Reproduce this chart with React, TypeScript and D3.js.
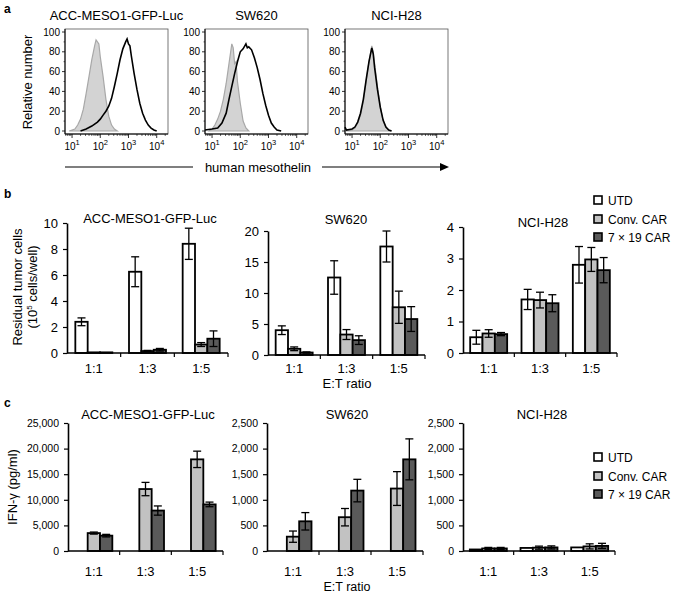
import React, { useEffect, useRef } from "react";
import { scaleLinear, scaleLog, scaleBand, axisLeft, select, line, area, format, range } from "d3";

const FONT = "'Liberation Sans', Arial, Helvetica, sans-serif";

// ---- panel a: flow histograms, [log10 intensity, relative number] ----
const accIso = [[0.9, 0], [1.1, 2], [1.2, 6], [1.3, 12], [1.4, 22], [1.5, 38], [1.6, 55], [1.7, 72], [1.8, 86], [1.85, 92], [1.9, 90], [1.95, 88], [2.0, 75], [2.1, 55], [2.2, 32], [2.3, 15], [2.4, 6], [2.5, 2], [2.6, 0]];
const accStain = [[1.3, 0], [1.5, 2], [1.7, 5], [1.9, 9], [2.0, 12], [2.1, 16], [2.2, 20], [2.3, 25], [2.4, 33], [2.5, 45], [2.6, 58], [2.7, 72], [2.8, 83], [2.9, 90], [2.95, 93], [3.0, 88], [3.05, 86], [3.1, 76], [3.2, 58], [3.3, 42], [3.4, 28], [3.5, 18], [3.6, 11], [3.7, 6], [3.8, 3], [3.9, 1], [4.0, 0]];
const swIso = [[0.9, 0], [1.0, 2], [1.1, 6], [1.2, 12], [1.3, 20], [1.4, 32], [1.5, 48], [1.6, 68], [1.7, 88], [1.75, 84], [1.8, 68], [1.85, 70], [1.9, 50], [2.0, 28], [2.1, 10], [2.2, 3], [2.3, 0]];
const swStain = [[0.75, 1], [1.0, 2], [1.2, 3], [1.35, 8], [1.5, 18], [1.6, 32], [1.7, 45], [1.8, 58], [1.9, 70], [2.0, 80], [2.1, 83], [2.2, 88], [2.25, 84], [2.3, 85], [2.4, 82], [2.5, 74], [2.6, 64], [2.7, 52], [2.8, 38], [2.9, 26], [3.0, 16], [3.1, 8], [3.2, 4], [3.3, 1], [3.45, 0]];
const h28Iso = [[0.75, 3], [0.8, 1], [1.0, 1], [1.1, 3], [1.2, 8], [1.3, 16], [1.4, 30], [1.5, 50], [1.6, 70], [1.7, 86], [1.75, 80], [1.8, 68], [1.9, 45], [2.0, 25], [2.1, 10], [2.2, 4], [2.3, 1], [2.4, 0]];
const h28Stain = [[0.75, 4], [0.8, 1], [1.0, 2], [1.1, 4], [1.2, 9], [1.3, 18], [1.4, 32], [1.5, 52], [1.6, 70], [1.7, 84], [1.75, 78], [1.8, 64], [1.9, 42], [2.0, 24], [2.1, 11], [2.2, 4], [2.3, 1], [2.4, 0]];

// ---- panels b, c: bar charts ----
const ratios = ["1:1", "1:3", "1:5"];
const groups = ["UTD", "Conv. CAR", "7 × 19 CAR"];
const fills = ["#ffffff", "#c2c2c2", "#5a5a5a"];

// rows = ratio, cols = UTD / Conv / 7x19
const bAccMean = [[2.4, 0.05, 0.05], [6.25, 0.15, 0.25], [8.4, 0.65, 1.1]];
const bAccErr = [[0.3, 0, 0], [1.15, 0.05, 0.1], [1.2, 0.15, 0.6]];
const bSwMean = [[4.0, 1.0, 0.4], [12.5, 3.3, 2.4], [17.5, 7.7, 5.8]];
const bSwErr = [[0.7, 0.3, 0.1], [2.7, 0.8, 0.7], [2.5, 2.6, 2.0]];
const bH28Mean = [[0.5, 0.62, 0.6], [1.7, 1.68, 1.58], [2.8, 2.97, 2.63]];
const bH28Err = [[0.22, 0.12, 0.05], [0.32, 0.25, 0.27], [0.58, 0.38, 0.4]];

const cAccMean = [[0, 3500, 3000], [0, 12100, 7900], [0, 17900, 9100]];
const cAccErr = [[0, 200, 250], [0, 1300, 900], [0, 1600, 450]];
const cSwMean = [[0, 280, 580], [0, 660, 1180], [0, 1220, 1790]];
const cSwErr = [[0, 110, 170], [0, 170, 220], [0, 330, 400]];
const cH28Mean = [[30, 50, 50], [60, 65, 70], [70, 90, 100]];
const cH28Err = [[0, 20, 20], [0, 30, 30], [0, 50, 50]];

function FlowPanel({ left, right, title, iso, stain }) {
  const x = scaleLog().domain([10 ** 0.75, 10 ** 4.4]).range([left, right]);
  const y = scaleLinear().domain([0, 100]).range([131, 32]);
  const pts = (d) => d.map(([l, v]) => [10 ** l, v]);
  const fillArea = area().x((d) => x(d[0])).y0(y(0)).y1((d) => y(d[1]));
  const outline = line().x((d) => x(d[0])).y((d) => y(d[1]));
  const top = 29, bottom = 134;
  const majors = [10, 100, 1000, 10000];
  const minors = [];
  [1, 10, 100, 1000, 10000].forEach((dec) =>
    range(2, 10).forEach((m) => {
      const v = dec * m;
      if (v > x.domain()[0] && v < x.domain()[1]) minors.push(v);
    })
  );
  return (
    <g>
      <text x={(left + right) / 2} y={20} textAnchor="middle" fontSize={13} fontFamily={FONT}>{title}</text>
      <rect x={left} y={top} width={right - left} height={bottom - top} fill="none" stroke="#555" strokeWidth={0.8} />
      <path d={fillArea(pts(iso))} fill="#d3d3d3" stroke="#a8a8a8" strokeWidth={1.2} />
      <path d={outline(pts(stain))} fill="none" stroke="#000" strokeWidth={1.6} />
      {range(0, 101, 20).map((t) => (
        <g key={t}>
          <line x1={left - 3} x2={left} y1={y(t)} y2={y(t)} stroke="#000" strokeWidth={0.8} />
          <text x={left - 5} y={y(t) + 3.5} textAnchor="end" fontSize={10} fontFamily={FONT}>{t}</text>
        </g>
      ))}
      {range(10, 100, 20).map((t) => (
        <line key={t} x1={left - 1.5} x2={left} y1={y(t)} y2={y(t)} stroke="#000" strokeWidth={0.6} />
      ))}
      <line x1={left} x2={left} y1={top} y2={bottom} stroke="#000" strokeWidth={1} />
      <line x1={left} x2={right} y1={bottom} y2={bottom} stroke="#000" strokeWidth={1} />
      {majors.map((t, i) => (
        <g key={t}>
          <line x1={x(t)} x2={x(t)} y1={bottom} y2={bottom + 4} stroke="#000" strokeWidth={0.8} />
          <text x={x(t)} y={bottom + 16} textAnchor="middle" fontSize={10} fontFamily={FONT}>
            10<tspan dy={-5} fontSize={7.5}>{i + 1}</tspan>
          </text>
        </g>
      ))}
      {minors.map((t) => (
        <line key={t} x1={x(t)} x2={x(t)} y1={bottom} y2={bottom + 2} stroke="#000" strokeWidth={0.6} />
      ))}
    </g>
  );
}

function YAxis({ scale, ticks, fmt, fontSize }) {
  const ref = useRef(null);
  useEffect(() => {
    if (ref.current) {
      const g = select(ref.current);
      g.call(axisLeft(scale).tickValues(ticks).tickSize(4).tickSizeOuter(0).tickPadding(5).tickFormat(fmt));
      g.selectAll("path").attr("stroke-width", 1.6);
      g.selectAll("line").attr("stroke-width", 1.2);
      g.selectAll("text").attr("font-size", fontSize).attr("font-family", FONT).attr("fill", "#000");
    }
  }, [scale, ticks, fmt, fontSize]);
  return <g ref={ref} />;
}

function BarPanel({ left, right, top, bottom, max, step, fmt, tickFont, title, titleX, titleY, means, errs, labelY }) {
  const x = scaleBand().domain(ratios).range([left, right]);
  const inner = scaleBand().domain(groups).range([0, 37]);
  const y = scaleLinear().domain([0, max]).range([bottom, top]);
  const ticks = range(0, max + step / 2, step);
  const offset = (x.bandwidth() - 37) / 2;
  return (
    <g>
      <text x={titleX} y={titleY} textAnchor="middle" fontSize={13} fontFamily={FONT}>{title}</text>
      {ratios.map((r, i) =>
        groups.map((gname, j) => {
          const v = means[i][j];
          const e = errs[i][j];
          const bx = x(r) + offset + inner(gname);
          const cx = bx + inner.bandwidth() / 2;
          return (
            <g key={r + gname}>
              <rect x={bx} y={y(v)} width={inner.bandwidth()} height={bottom - y(v)} fill={fills[j]} stroke="#000" strokeWidth={1.8} />
              {e > 0 && (
                <g stroke="#000" strokeWidth={1.3}>
                  <line x1={cx} x2={cx} y1={y(v - e)} y2={y(v + e)} />
                  <line x1={cx - 4} x2={cx + 4} y1={y(v + e)} y2={y(v + e)} />
                  <line x1={cx - 4} x2={cx + 4} y1={y(v - e)} y2={y(v - e)} />
                </g>
              )}
            </g>
          );
        })
      )}
      <g transform={`translate(${left},0)`}>
        <YAxis scale={y} ticks={ticks} fmt={fmt} fontSize={tickFont} />
      </g>
      <line x1={left} x2={right} y1={bottom} y2={bottom} stroke="#000" strokeWidth={1.6} />
      {ratios.map((r) => (
        <line key={r} x1={x(r) + x.bandwidth()} x2={x(r) + x.bandwidth()} y1={bottom} y2={bottom + 4} stroke="#000" strokeWidth={1.2} />
      ))}
      {ratios.map((r) => (
        <text key={r} x={x(r) + x.bandwidth() / 2} y={labelY} textAnchor="middle" fontSize={13} fontFamily={FONT}>{r}</text>
      ))}
    </g>
  );
}

function Legend({ x, ys }) {
  return (
    <g>
      {groups.map((gname, i) => (
        <g key={gname}>
          <rect x={x - 4} y={ys[i] - 4} width={8} height={8} fill={fills[i]} stroke="#000" strokeWidth={1.6} />
          <text x={x + 10} y={ys[i] + 4.5} fontSize={12} fontFamily={FONT}>{gname}</text>
        </g>
      ))}
    </g>
  );
}

const fmtPlain = format("d");
const fmtComma = format(",");

export default function App() {
  return (
    <svg width={673} height={593} style={{ position: "absolute", left: 0, top: 0, background: "#fff" }}>
      {/* a */}
      <text x={4} y={13} fontSize={12} fontWeight="bold" fontFamily={FONT}>a</text>
      <text transform="translate(32,82) rotate(-90)" textAnchor="middle" fontSize={13} fontFamily={FONT}>Relative number</text>
      <FlowPanel left={65} right={168} title="ACC-MESO1-GFP-Luc" iso={accIso} stain={accStain} />
      <FlowPanel left={205} right={308} title="SW620" iso={swIso} stain={swStain} />
      <FlowPanel left={345} right={448} title="NCI-H28" iso={h28Iso} stain={h28Stain} />
      <line x1={65} x2={193} y1={167} y2={167} stroke="#000" strokeWidth={1.2} />
      <text x={258} y={171.5} textAnchor="middle" fontSize={13} fontFamily={FONT}>human mesothelin</text>
      <line x1={322} x2={442} y1={167} y2={167} stroke="#000" strokeWidth={1.2} />
      <path d="M440,163 L449,167 L440,171 Z" fill="#000" />

      {/* b */}
      <text x={4} y={198} fontSize={12} fontWeight="bold" fontFamily={FONT}>b</text>
      <text transform="translate(22,287) rotate(-90)" textAnchor="middle" fontSize={13} fontFamily={FONT}>Residual tumor cells</text>
      <text transform="translate(37,287) rotate(-90)" textAnchor="middle" fontSize={13} fontFamily={FONT}>
        (10<tspan dy={-5} fontSize={8}>5</tspan><tspan dy={5}> cells/well)</tspan>
      </text>
      <BarPanel left={67} right={228} top={223} bottom={353} max={10} step={2} fmt={fmtPlain} tickFont={13}
        title="ACC-MESO1-GFP-Luc" titleX={150} titleY={223} means={bAccMean} errs={bAccErr} labelY={373} />
      <BarPanel left={268} right={425} top={231} bottom={355} max={20} step={5} fmt={fmtPlain} tickFont={13}
        title="SW620" titleX={346} titleY={224} means={bSwMean} errs={bSwErr} labelY={373} />
      <BarPanel left={463} right={617} top={227} bottom={353} max={4} step={1} fmt={fmtPlain} tickFont={13}
        title="NCI-H28" titleX={543} titleY={227} means={bH28Mean} errs={bH28Err} labelY={373} />
      <text x={347} y={388} textAnchor="middle" fontSize={13} fontFamily={FONT}>E:T ratio</text>
      <Legend x={598} ys={[200, 219, 237]} />

      {/* c */}
      <text x={4} y={407} fontSize={12} fontWeight="bold" fontFamily={FONT}>c</text>
      <text transform="translate(17,487) rotate(-90)" textAnchor="middle" fontSize={13} fontFamily={FONT}>IFN-γ (pg/ml)</text>
      <BarPanel left={68} right={223} top={423} bottom={551} max={25000} step={5000} fmt={fmtComma} tickFont={10.5}
        title="ACC-MESO1-GFP-Luc" titleX={148} titleY={419} means={cAccMean} errs={cAccErr} labelY={576} />
      <BarPanel left={267} right={423} top={423} bottom={551} max={2500} step={500} fmt={fmtComma} tickFont={10.5}
        title="SW620" titleX={347} titleY={419} means={cSwMean} errs={cSwErr} labelY={576} />
      <BarPanel left={463} right={615} top={423} bottom={551} max={2500} step={500} fmt={fmtComma} tickFont={10.5}
        title="NCI-H28" titleX={542} titleY={419} means={cH28Mean} errs={cH28Err} labelY={576} />
      <text x={347} y={591} textAnchor="middle" fontSize={12.5} fontFamily={FONT}>E:T ratio</text>
      <Legend x={598} ys={[457, 476, 494]} />
    </svg>
  );
}
